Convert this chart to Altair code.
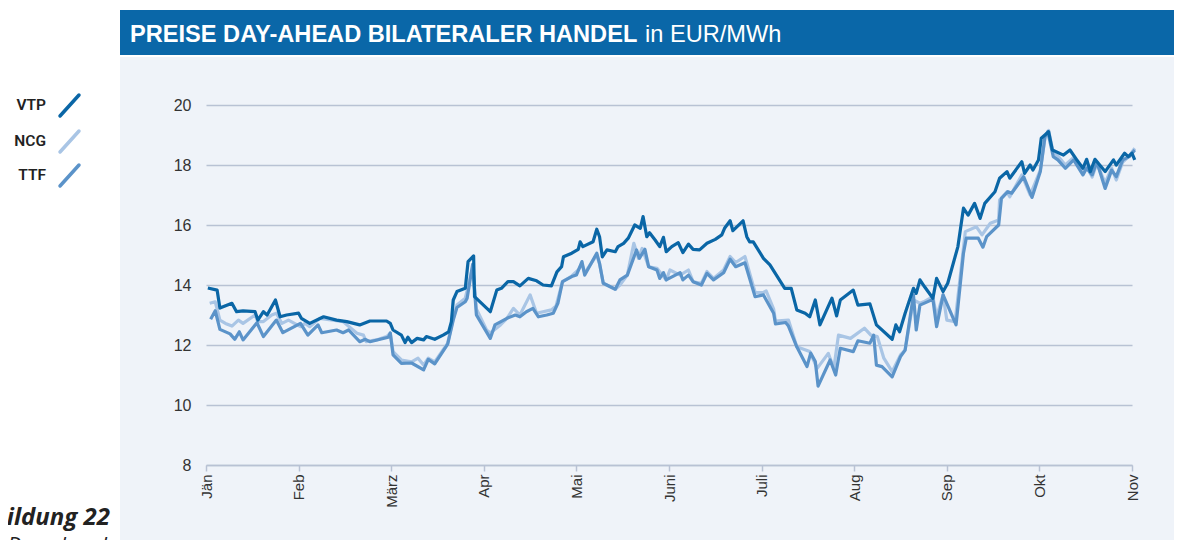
import altair as alt
import pandas as pd

months = ["Jän", "Feb", "März", "Apr", "Mai", "Juni", "Juli", "Aug", "Sep", "Okt", "Nov"]
y_ticks = [8, 10, 12, 14, 16, 18, 20]
names = ["VTP", "NCG", "TTF"]
line_colors = {"VTP": "#0a66a6", "NCG": "#a9c5e5", "TTF": "#5b93c9"}

# time in months since start of January, values in EUR/MWh
vtp_t = [0.02, 0.12, 0.15, 0.28, 0.33, 0.40, 0.53, 0.56, 0.62, 0.66,
         0.75, 0.80, 0.87, 1.00, 1.03, 1.12, 1.27, 1.41, 1.52, 1.66,
         1.77, 1.95, 1.99, 2.02, 2.11, 2.15, 2.18, 2.22, 2.28, 2.35,
         2.38, 2.47, 2.56, 2.62, 2.65, 2.67, 2.71, 2.80, 2.83, 2.89,
         2.90, 3.07, 3.14, 3.19, 3.26, 3.32, 3.39, 3.48, 3.57, 3.64,
         3.73, 3.79, 3.84, 3.86, 3.95, 4.02, 4.04, 4.07, 4.18, 4.22,
         4.25, 4.28, 4.33, 4.42, 4.45, 4.51, 4.56, 4.63, 4.69, 4.72,
         4.76, 4.79, 4.85, 4.90, 4.94, 4.97, 5.03, 5.10, 5.15, 5.21,
         5.26, 5.33, 5.41, 5.50, 5.57, 5.60, 5.66, 5.69, 5.80, 5.84,
         5.87, 5.91, 6.02, 6.09, 6.25, 6.32, 6.38, 6.47, 6.52, 6.58,
         6.63, 6.76, 6.81, 6.85, 6.99, 7.04, 7.17, 7.24, 7.41, 7.45,
         7.49, 7.55, 7.64, 7.67, 7.71, 7.76, 7.85, 7.89, 7.96, 8.01,
         8.12, 8.18, 8.23, 8.30, 8.36, 8.41, 8.52, 8.57, 8.65, 8.68,
         8.81, 8.84, 8.90, 8.93, 8.99, 9.02, 9.10, 9.14, 9.26, 9.33,
         9.40, 9.47, 9.51, 9.55, 9.60, 9.71, 9.80, 9.83, 9.92, 9.96,
         10.00, 10.03]
vtp_v = [13.90, 13.83, 13.23, 13.39, 13.11, 13.14, 13.11, 12.83, 13.11, 13.00,
         13.50, 12.94, 13.00, 13.06, 12.89, 12.72, 12.94, 12.83, 12.78, 12.67,
         12.80, 12.80, 12.72, 12.50, 12.33, 12.08, 12.26, 12.08, 12.22, 12.17,
         12.28, 12.19, 12.33, 12.44, 12.78, 13.50, 13.78, 13.89, 14.78, 14.97,
         13.61, 13.11, 13.83, 13.89, 14.11, 14.11, 13.97, 14.22, 14.14, 14.00,
         13.97, 14.44, 14.61, 14.94, 15.06, 15.19, 15.44, 15.28, 15.44, 15.86,
         15.61, 14.94, 15.17, 15.11, 15.28, 15.39, 15.56, 16.00, 15.89, 16.28,
         15.61, 15.74, 15.50, 15.28, 15.59, 15.11, 15.28, 15.41, 15.08, 15.36,
         15.19, 15.17, 15.39, 15.52, 15.67, 15.89, 16.14, 15.81, 16.14, 15.61,
         15.44, 15.44, 14.89, 14.67, 13.89, 13.89, 13.17, 13.06, 12.94, 13.50,
         12.67, 13.56, 12.97, 13.50, 13.83, 13.33, 13.37, 12.67, 12.19, 12.67,
         12.44, 13.06, 13.89, 13.72, 14.17, 13.94, 13.56, 14.22, 13.78, 14.06,
         15.28, 16.56, 16.33, 16.72, 16.22, 16.72, 17.11, 17.56, 17.78, 17.56,
         18.11, 17.72, 18.00, 17.83, 18.17, 18.89, 19.11, 18.50, 18.33, 18.50,
         18.19, 17.89, 18.19, 17.78, 18.19, 17.78, 18.17, 18.00, 18.39, 18.28,
         18.39, 18.17]

ttf_t = [0.05, 0.10, 0.15, 0.26, 0.31, 0.36, 0.40, 0.55, 0.62, 0.76,
         0.83, 1.02, 1.10, 1.21, 1.25, 1.41, 1.48, 1.54, 1.66, 1.72,
         1.77, 1.97, 1.99, 2.02, 2.11, 2.22, 2.35, 2.40, 2.47, 2.61,
         2.67, 2.71, 2.80, 2.82, 2.88, 2.92, 3.07, 3.12, 3.25, 3.34,
         3.39, 3.46, 3.53, 3.59, 3.68, 3.75, 3.80, 3.85, 3.95, 4.00,
         4.06, 4.09, 4.22, 4.25, 4.29, 4.42, 4.47, 4.55, 4.65, 4.68,
         4.74, 4.78, 4.87, 4.90, 4.94, 4.97, 5.12, 5.15, 5.21, 5.26,
         5.35, 5.41, 5.48, 5.59, 5.66, 5.72, 5.82, 5.93, 6.02, 6.05,
         6.13, 6.15, 6.26, 6.29, 6.38, 6.49, 6.53, 6.58, 6.61, 6.74,
         6.80, 6.85, 6.99, 7.04, 7.17, 7.21, 7.24, 7.30, 7.41, 7.50,
         7.55, 7.64, 7.67, 7.71, 7.85, 7.89, 7.96, 8.10, 8.18, 8.21,
         8.34, 8.39, 8.43, 8.56, 8.59, 8.66, 8.70, 8.83, 8.92, 9.01,
         9.06, 9.09, 9.15, 9.20, 9.28, 9.37, 9.47, 9.51, 9.57, 9.62,
         9.71, 9.78, 9.83, 9.90, 9.97, 10.03]
ttf_v = [12.86, 13.14, 12.52, 12.37, 12.19, 12.44, 12.17, 12.74, 12.28, 12.83,
         12.41, 12.72, 12.33, 12.67, 12.41, 12.50, 12.41, 12.50, 12.11, 12.19,
         12.11, 12.26, 12.40, 11.67, 11.39, 11.40, 11.17, 11.52, 11.37, 12.03,
         12.83, 13.25, 13.44, 13.56, 14.69, 13.00, 12.22, 12.67, 12.89, 13.00,
         12.94, 13.11, 13.22, 12.94, 13.00, 13.06, 13.39, 14.11, 14.28, 14.33,
         14.78, 14.33, 15.06, 14.72, 14.06, 13.86, 14.17, 14.33, 15.17, 14.89,
         15.19, 14.61, 14.50, 14.22, 14.41, 14.17, 14.41, 14.17, 14.33, 14.11,
         14.00, 14.39, 14.17, 14.41, 14.86, 14.61, 14.74, 13.61, 13.67, 13.50,
         13.06, 12.70, 12.75, 12.63, 11.94, 11.28, 11.73, 11.45, 10.63, 11.50,
         11.00, 11.89, 11.78, 12.14, 12.06, 12.33, 11.33, 11.28, 10.94, 11.61,
         11.83, 13.67, 12.50, 13.33, 13.52, 12.61, 13.67, 12.67, 15.06, 15.56,
         15.56, 15.26, 15.61, 16.00, 16.89, 17.11, 17.06, 17.61, 16.92, 17.78,
         18.94, 19.11, 18.28, 18.17, 17.89, 18.17, 17.67, 17.89, 17.67, 18.11,
         17.22, 17.83, 17.61, 18.17, 18.28, 18.50]

ncg_t = [0.04, 0.10, 0.15, 0.21, 0.28, 0.35, 0.40, 0.53, 0.56, 0.62,
         0.71, 0.76, 0.82, 0.89, 1.02, 1.07, 1.12, 1.23, 1.37, 1.48,
         1.63, 1.70, 1.73, 1.84, 1.95, 1.99, 2.02, 2.11, 2.22, 2.29,
         2.35, 2.40, 2.47, 2.61, 2.67, 2.71, 2.80, 2.88, 2.92, 3.03,
         3.07, 3.18, 3.25, 3.32, 3.39, 3.50, 3.57, 3.73, 3.78, 3.85,
         3.95, 4.02, 4.06, 4.09, 4.22, 4.25, 4.29, 4.42, 4.47, 4.55,
         4.62, 4.67, 4.71, 4.78, 4.87, 4.90, 4.97, 5.01, 5.12, 5.21,
         5.26, 5.35, 5.41, 5.48, 5.59, 5.66, 5.72, 5.82, 5.93, 6.02,
         6.05, 6.13, 6.15, 6.29, 6.38, 6.52, 6.60, 6.72, 6.78, 6.83,
         6.96, 7.11, 7.18, 7.25, 7.32, 7.41, 7.50, 7.55, 7.64, 7.71,
         7.75, 7.85, 7.89, 7.96, 8.00, 8.09, 8.20, 8.32, 8.38, 8.47,
         8.56, 8.57, 8.65, 8.68, 8.81, 8.90, 9.01, 9.06, 9.10, 9.15,
         9.20, 9.28, 9.37, 9.47, 9.51, 9.57, 9.62, 9.71, 9.78, 9.83,
         9.90, 9.97, 10.03]
ncg_v = [13.39, 13.44, 12.83, 12.72, 12.63, 12.83, 12.72, 13.00, 12.78, 12.78,
         13.00, 13.06, 12.72, 12.83, 12.61, 12.72, 12.61, 12.89, 12.83, 12.78,
         12.39, 12.33, 12.11, 12.17, 12.28, 12.39, 11.78, 11.50, 11.44, 11.56,
         11.33, 11.56, 11.44, 12.06, 12.89, 13.33, 13.56, 14.60, 13.20, 12.50,
         12.40, 12.67, 12.89, 13.22, 13.00, 13.67, 13.06, 13.17, 13.30, 14.11,
         14.30, 14.50, 14.70, 14.40, 15.00, 14.70, 14.06, 13.86, 14.00, 14.33,
         15.39, 14.89, 15.22, 14.61, 14.56, 14.44, 14.17, 14.50, 14.33, 14.50,
         14.11, 14.06, 14.45, 14.22, 14.50, 14.95, 14.75, 14.95, 13.75, 13.75,
         13.80, 13.20, 12.80, 12.83, 11.94, 11.78, 11.22, 11.72, 11.22, 12.33,
         12.22, 12.56, 12.33, 12.28, 11.56, 11.11, 11.67, 11.83, 13.50, 13.39,
         13.44, 13.61, 12.94, 13.67, 12.83, 12.78, 15.78, 15.94, 15.67, 16.06,
         16.17, 16.83, 17.11, 16.94, 17.67, 17.00, 17.83, 18.90, 19.15, 18.40,
         18.30, 18.00, 18.25, 17.75, 17.95, 17.60, 18.05, 17.40, 17.90, 17.50,
         18.10, 18.30, 18.56]

series_data = {"VTP": (vtp_t, vtp_v), "NCG": (ncg_t, ncg_v), "TTF": (ttf_t, ttf_v)}

grid_c = "#b8c2d4"
panel_c = "#eff3f9"
bar_c = "#0a67a8"
font = "Liberation Sans"
legend_font = "Liberation Sans Narrow, Roboto, sans-serif"

one = pd.DataFrame({"k": [0]})


def series_df(name):
    t, v = series_data[name]
    rows = [{"t": a, "v": b, "i": k, "series": name} for k, (a, b) in enumerate(zip(t, v))]
    return pd.DataFrame(rows)


label_expr = "[" + ",".join("'%s'" % m for m in months) + "][datum.value]"

x_enc = alt.X(
    "t:Q",
    scale=alt.Scale(domain=[0, len(months) - 1], nice=False, zero=False),
    axis=alt.Axis(values=list(range(len(months))), labelExpr=label_expr, labelAngle=270,
                  labelAlign="right", labelBaseline="middle", grid=False,
                  domainColor=grid_c, domainWidth=1.5, tickColor=grid_c, tickWidth=1.5,
                  tickSize=6, labelPadding=3, labelFontSize=15, labelColor="#333333",
                  labelFont=font, title=None),
)
y_enc = alt.Y(
    "v:Q",
    scale=alt.Scale(domain=[y_ticks[0], y_ticks[-1]], nice=False, zero=False),
    axis=alt.Axis(values=y_ticks, grid=True, gridColor=grid_c, gridWidth=1.5, domain=False,
                  ticks=False, labelPadding=15, labelFontSize=16, labelColor="#333333",
                  labelFont=font, title=None),
)


def box(x1, x2, y1, y2, color):
    return alt.Chart(one).mark_rect(color=color).encode(
        x=alt.value(x1), x2=alt.value(x2), y=alt.value(y1), y2=alt.value(y2))


def text(s, x, y, **kw):
    return alt.Chart(one).mark_text(text=s, **kw).encode(x=alt.value(x), y=alt.value(y))


layers = [
    box(-210, -86, -110, 500, "white"),
    box(-86, 1000, -110, -48, "white"),
    box(-86, 1000, -95, -50, bar_c),
    text("PREISE DAY-AHEAD BILATERALER HANDEL", -76, -63, align="left", baseline="alphabetic",
         font=font, fontSize=23.6, fontWeight="bold", color="white"),
    text("in EUR/MWh", 439, -63, align="left", baseline="alphabetic",
         font=font, fontSize=23.6, color="white"),
    text("Abbildung 22", -96, 420, align="right", baseline="alphabetic",
         font="Open Sans", fontSize=24, fontWeight="bold", fontStyle="italic", color="#222222"),
    text("Preise Day ahead", -99, 448, align="right", baseline="alphabetic",
         font="Open Sans", fontSize=21, fontStyle="italic", color="#222222"),
]

legend_y = {"VTP": 0, "NCG": 36, "TTF": 70}
for name in names:
    ly = legend_y[name]
    layers.append(text(name, -160, ly, align="right", baseline="middle", font=legend_font,
                       fontSize=15.5, fontWeight=600, color="#222222"))
    layers.append(alt.Chart(one).mark_rule(color=line_colors[name], strokeWidth=3.5,
                                           strokeCap="round").encode(
        x=alt.value(-146), x2=alt.value(-127), y=alt.value(ly + 11), y2=alt.value(ly - 10)))

for name in ["NCG", "TTF", "VTP"]:
    layers.append(alt.Chart(series_df(name)).mark_line(
        color=line_colors[name], strokeWidth=3.2, strokeJoin="round").encode(
        x=x_enc, y=y_enc, order="i:Q"))

chart = alt.layer(*layers).properties(
    width=926, height=360,
    autosize=alt.AutoSizeParams(type="none"),
    padding={"left": 198, "top": 97, "right": 42, "bottom": 75},
    background=panel_c,
).configure_view(strokeWidth=0)

chart.save("out.html", embed_options={"renderer": "svg", "actions": False})
